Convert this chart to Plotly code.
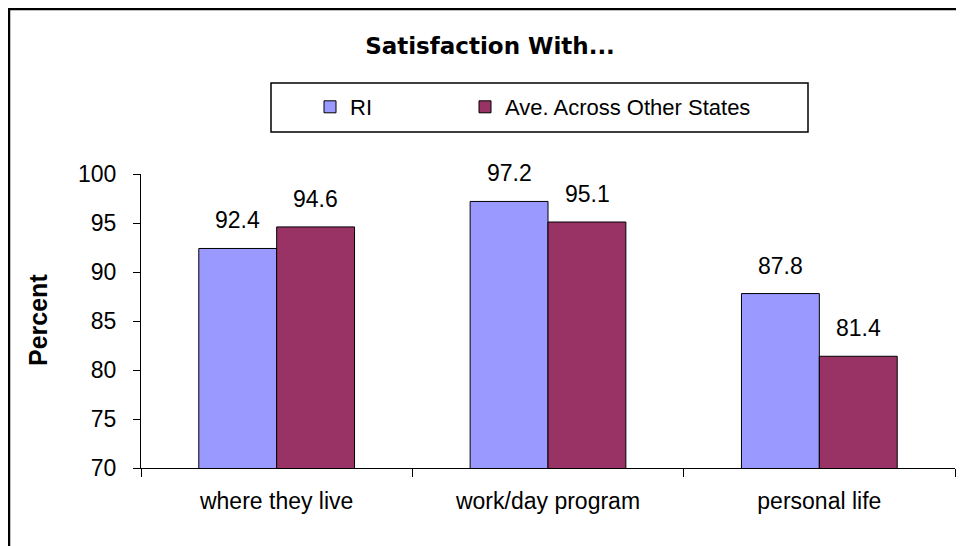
import plotly.graph_objects as go

categories = ["where they live", "work/day program", "personal life"]
ri_values = [92.4, 97.2, 87.8]
other_values = [94.6, 95.1, 81.4]
series_names = ["RI", "Ave. Across Other States"]
y_ticks = [70, 75, 80, 85, 90, 95, 100]

# page has an 8px body margin, so the figure is drawn at (8, 8)
W, H = 956, 538
L, R, T, B = 133, 9, 166, 78
PW, PH = W - L - R, H - T - B

def px_x(px):
    return (px - L) / PW

def px_y(py):
    return (H - B - py) / PH

FONT = "Liberation Sans, Arial, sans-serif"
TFONT = "DejaVu Sans, Liberation Sans, Arial, sans-serif"
C_RI = "#9999FF"
C_OT = "#993366"

fig = go.Figure()
fig.add_trace(go.Bar(x=categories, y=ri_values, name=series_names[0], legend="legend",
                     marker=dict(color=C_RI, line=dict(color="black", width=1))))
fig.add_trace(go.Bar(x=categories, y=other_values, name=series_names[1], legend="legend2",
                     marker=dict(color=C_OT, line=dict(color="black", width=1))))

annotations = []
for vals, shift in ((ri_values, -39), (other_values, 39)):
    for c, v in zip(categories, vals):
        annotations.append(dict(x=c, y=v, xref="x", yref="y", text=f"{v:.1f}",
                                showarrow=False, xshift=shift, yshift=28,
                                yanchor="middle",
                                font=dict(family=FONT, size=23, color="black")))

annotations.append(dict(x=px_x(30), y=px_y(312), xref="paper", yref="paper",
                        text="<b>Percent</b>", textangle=-90, showarrow=False,
                        xanchor="center", yanchor="middle",
                        font=dict(family=FONT, size=25, color="black")))

shapes = [
    # legend box
    dict(type="rect", xref="paper", yref="paper",
         x0=px_x(263), x1=px_x(800), y0=px_y(124), y1=px_y(75),
         line=dict(color="black", width=1.5), fillcolor="rgba(0,0,0,0)"),
    # outer frame (left + top)
    dict(type="line", xref="paper", yref="paper",
         x0=px_x(1), x1=px_x(1), y0=px_y(H + 5), y1=px_y(0),
         line=dict(color="black", width=2.5)),
    dict(type="line", xref="paper", yref="paper",
         x0=px_x(0), x1=px_x(W + 5), y0=px_y(1), y1=px_y(1),
         line=dict(color="black", width=2.5)),
]

legend_style = dict(orientation="h", xanchor="left", yanchor="middle",
                    bgcolor="rgba(0,0,0,0)", borderwidth=0,
                    font=dict(family=FONT, size=22, color="black"))

fig.update_layout(
    width=W, height=H,
    margin=dict(l=L, r=R, t=T, b=B),
    paper_bgcolor="white", plot_bgcolor="white",
    barmode="group", bargap=0.426, bargroupgap=0,
    title=dict(text="<b>Satisfaction With...</b>", x=482 / W, xanchor="center",
               y=1 - 38 / H, yanchor="middle", xref="container", yref="container",
               font=dict(family=TFONT, size=23, color="black")),
    showlegend=True,
    legend=dict(x=px_x(302), y=px_y(99), **legend_style),
    legend2=dict(x=px_x(457), y=px_y(99), **legend_style),
    xaxis=dict(type="category", showline=True, linecolor="black", linewidth=1.2,
               ticks="outside", tickson="boundaries", ticklen=8, tickcolor="black",
               showgrid=False, ticklabelstandoff=12,
               tickfont=dict(family=FONT, size=23, color="black")),
    yaxis=dict(range=[70, 100], tickvals=y_ticks, showline=True, linecolor="black",
               linewidth=1.2, ticks="outside", ticklen=7, tickcolor="black",
               showgrid=False, zeroline=False, ticklabelstandoff=12,
               tickfont=dict(family=FONT, size=23, color="black")),
    annotations=annotations,
    shapes=shapes,
)

fig.write_html("out.html")
